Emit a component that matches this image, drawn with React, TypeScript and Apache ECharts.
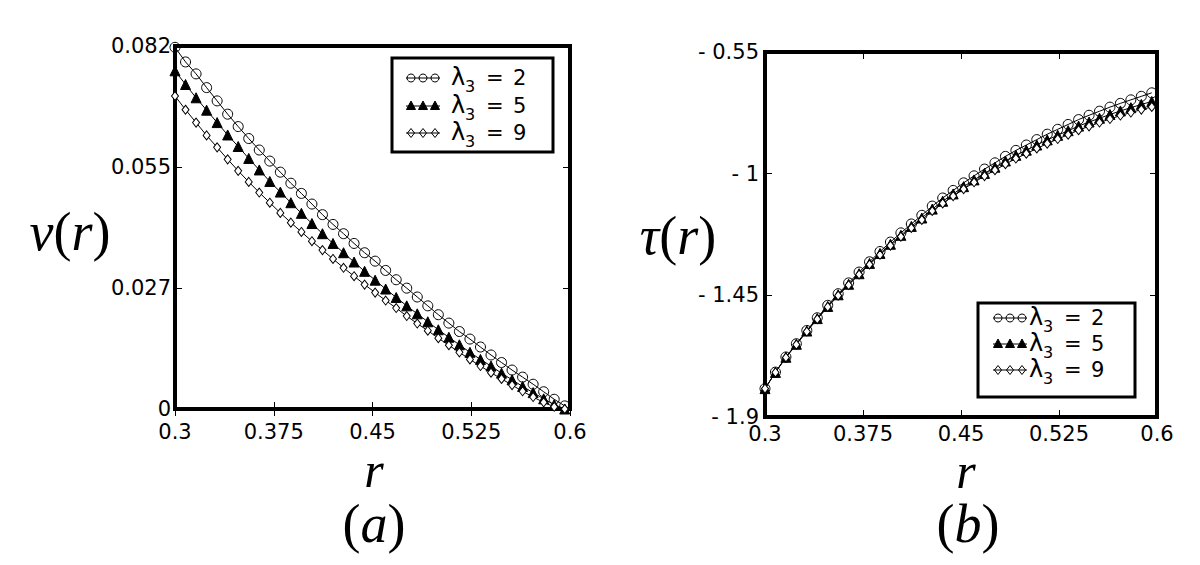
import React, { useEffect, useRef } from "react";
import * as echarts from "echarts";

// sampling radii (shared by all curves)
const rValues = [
  0.3, 0.308, 0.316, 0.324, 0.332, 0.34, 0.348, 0.356, 0.364, 0.372,
  0.38, 0.388, 0.396, 0.404, 0.412, 0.42, 0.428, 0.436, 0.444, 0.452,
  0.46, 0.468, 0.476, 0.484, 0.492, 0.5, 0.508, 0.516, 0.524, 0.532,
  0.54, 0.548, 0.556, 0.564, 0.572, 0.58, 0.588, 0.596,
];

// panel (a): v(r)
const vLam2 = [
  0.0817, 0.0784, 0.0757, 0.0726, 0.0696, 0.0666, 0.0638, 0.0611, 0.0585, 0.056,
  0.0535, 0.051, 0.0487, 0.0463, 0.0439, 0.0417, 0.0396, 0.0374, 0.0353, 0.0334,
  0.0313, 0.0292, 0.0273, 0.0253, 0.0233, 0.0213, 0.0194, 0.0175, 0.0158, 0.014,
  0.0122, 0.0105, 0.0088, 0.0072, 0.0056, 0.0039, 0.0022, 0.0007,
];
const vLam5 = [
  0.0764, 0.0733, 0.0703, 0.0675, 0.0647, 0.0619, 0.0593, 0.0566, 0.054, 0.0514,
  0.049, 0.0466, 0.0442, 0.0419, 0.0396, 0.0374, 0.0353, 0.0332, 0.0311, 0.0291,
  0.0271, 0.0252, 0.0233, 0.0215, 0.0197, 0.0179, 0.0162, 0.0145, 0.0128, 0.0112,
  0.0097, 0.0081, 0.0066, 0.0051, 0.0037, 0.0023, 0.001, 0.0,
];
const vLam9 = [
  0.0707, 0.0676, 0.0647, 0.0618, 0.0591, 0.0564, 0.0538, 0.0513, 0.0489, 0.0466,
  0.0443, 0.0421, 0.04, 0.0379, 0.0359, 0.0339, 0.0319, 0.03, 0.0281, 0.0263,
  0.0245, 0.0228, 0.021, 0.0193, 0.0177, 0.016, 0.0144, 0.0128, 0.0112, 0.0097,
  0.0082, 0.0068, 0.0054, 0.004, 0.0027, 0.0015, 0.0005, 0.0,
];

// panel (b): tau(r)
const tLam2 = [
  -1.795, -1.734, -1.678, -1.629, -1.58, -1.533, -1.487, -1.444, -1.404, -1.364,
  -1.326, -1.288, -1.253, -1.219, -1.186, -1.154, -1.12, -1.09, -1.062, -1.034,
  -1.008, -0.983, -0.96, -0.936, -0.914, -0.894, -0.874, -0.854, -0.836, -0.818,
  -0.8, -0.784, -0.769, -0.754, -0.74, -0.727, -0.714, -0.701,
];
const tLam5 = [
  -1.795, -1.735, -1.679, -1.631, -1.582, -1.536, -1.491, -1.448, -1.409, -1.37,
  -1.332, -1.295, -1.261, -1.228, -1.195, -1.164, -1.131, -1.102, -1.075, -1.048,
  -1.023, -0.999, -0.976, -0.953, -0.932, -0.913, -0.894, -0.875, -0.858, -0.841,
  -0.824, -0.809, -0.795, -0.781, -0.768, -0.756, -0.744, -0.733,
];
const tLam9 = [
  -1.795, -1.735, -1.68, -1.632, -1.584, -1.538, -1.493, -1.451, -1.412, -1.373,
  -1.336, -1.3, -1.266, -1.233, -1.201, -1.171, -1.138, -1.11, -1.083, -1.057,
  -1.032, -1.009, -0.987, -0.965, -0.944, -0.926, -0.907, -0.889, -0.872, -0.856,
  -0.839, -0.825, -0.811, -0.798, -0.785, -0.774, -0.763, -0.753,
];

const xTickValues = [0.3, 0.375, 0.45, 0.525, 0.6];
const xTickLabels = ["0.3", "0.375", "0.45", "0.525", "0.6"];
const vTickValues = [0, 0.027333, 0.054667, 0.082];
const vTickLabels = ["0", "0.027", "0.055", "0.082"];
const tTickValues = [-1.9, -1.45, -1, -0.55];
const tTickLabels = ["- 1.9", "- 1.45", "- 1", "- 0.55"];
const lambdaValues = ["2", "5", "9"];

const TICK_FONT = '"DejaVu Sans", sans-serif';
const SERIF = '"Liberation Serif", "DejaVu Serif", serif';

function labelFor(values: number[], labels: string[]) {
  return (v: number) => {
    let best = 0;
    for (let i = 1; i < values.length; i++) {
      if (Math.abs(values[i] - v) < Math.abs(values[best] - v)) best = i;
    }
    return labels[best];
  };
}

function xAxisPair(gridIndex: number, margin: number) {
  const base = {
    type: "value",
    gridIndex,
    min: 0.3,
    max: 0.6,
    splitLine: { show: false },
    axisLine: { show: false },
  };
  return [
    {
      ...base,
      position: "bottom",
      axisTick: {
        show: true,
        inside: true,
        length: 7,
        customValues: xTickValues,
        lineStyle: { color: "#000", width: 1 },
      },
      axisLabel: {
        show: true,
        customValues: xTickValues,
        margin,
        color: "#000",
        fontSize: 21,
        lineHeight: 18,
        fontFamily: TICK_FONT,
        formatter: labelFor(xTickValues, xTickLabels),
      },
    },
    {
      ...base,
      position: "top",
      axisTick: {
        show: true,
        inside: true,
        length: 7,
        customValues: xTickValues,
        lineStyle: { color: "#000", width: 1 },
      },
      axisLabel: { show: false },
    },
  ];
}

function yAxisPair(
  gridIndex: number,
  min: number,
  max: number,
  values: number[],
  labels: string[],
  margin: number
) {
  const base = {
    type: "value",
    gridIndex,
    min,
    max,
    splitLine: { show: false },
    axisLine: { show: false },
  };
  return [
    {
      ...base,
      position: "left",
      axisTick: {
        show: true,
        inside: true,
        length: 7,
        customValues: values,
        lineStyle: { color: "#000", width: 1 },
      },
      axisLabel: {
        show: true,
        customValues: values,
        margin,
        color: "#000",
        fontSize: 21,
        lineHeight: 18,
        fontFamily: TICK_FONT,
        formatter: labelFor(values, labels),
      },
    },
    {
      ...base,
      position: "right",
      axisTick: {
        show: true,
        inside: true,
        length: 7,
        customValues: values,
        lineStyle: { color: "#000", width: 1 },
      },
      axisLabel: { show: false },
    },
  ];
}

const markerStyles = [
  { symbol: "circle", size: 10, fill: "rgba(0,0,0,0)" },
  { symbol: "triangle", size: 10, fill: "#000" },
  { symbol: "diamond", size: [7, 9], fill: "#fff" },
];

function makeSeries(values: number[], idx: number, axisIndex: number) {
  const m = markerStyles[idx];
  return {
    type: "line",
    name: "lambda3=" + lambdaValues[idx],
    data: rValues.map((r, i) => [r, values[i]]),
    xAxisIndex: axisIndex,
    yAxisIndex: axisIndex,
    symbol: m.symbol,
    symbolSize: m.size,
    showSymbol: true,
    showAllSymbol: true,
    clip: false,
    lineStyle: { color: "#000", width: 1 },
    itemStyle: { color: m.fill, borderColor: "#000", borderWidth: 1 },
    z: 3 + idx,
  };
}

function legendGraphic(
  bx: number,
  by: number,
  bw: number,
  bh: number,
  rows: number[],
  sx: number,
  tx: number
) {
  const els: any[] = [
    {
      type: "rect",
      shape: { x: bx, y: by, width: bw, height: bh },
      style: { fill: "#fff", stroke: "#000", lineWidth: 3 },
      z: 50,
    },
  ];
  rows.forEach((ry, k) => {
    els.push({
      type: "line",
      shape: { x1: sx, y1: ry, x2: sx + 34, y2: ry },
      style: { stroke: "#000", lineWidth: 1 },
      z: 51,
    });
    [sx + 5, sx + 17, sx + 29].forEach((cx) => {
      if (k === 0) {
        els.push({
          type: "circle",
          shape: { cx, cy: ry, r: 4 },
          style: { fill: "rgba(0,0,0,0)", stroke: "#000", lineWidth: 1 },
          z: 52,
        });
      } else if (k === 1) {
        els.push({
          type: "polygon",
          shape: { points: [[cx, ry - 5], [cx - 4.5, ry + 3.5], [cx + 4.5, ry + 3.5]] },
          style: { fill: "#000", stroke: "#000", lineWidth: 1 },
          z: 52,
        });
      } else {
        els.push({
          type: "polygon",
          shape: { points: [[cx, ry - 4.5], [cx + 3.5, ry], [cx, ry + 4.5], [cx - 3.5, ry]] },
          style: { fill: "#fff", stroke: "#000", lineWidth: 1 },
          z: 52,
        });
        els.push({
          type: "line",
          shape: { x1: cx - 3.5, y1: ry, x2: cx + 3.5, y2: ry },
          style: { stroke: "#000", lineWidth: 1 },
          z: 53,
        });
      }
    });
    els.push({
      type: "text",
      x: tx,
      y: ry - 1,
      style: { text: "λ", font: '24px ' + TICK_FONT, fill: "#000", align: "left", verticalAlign: "middle", lineHeight: 20 },
      z: 52,
    });
    els.push({
      type: "text",
      x: tx + 14,
      y: ry + 8,
      style: { text: "3", font: '16px ' + TICK_FONT, fill: "#000", align: "left", verticalAlign: "middle", lineHeight: 12 },
      z: 52,
    });
    els.push({
      type: "text",
      x: tx + 35,
      y: ry,
      style: { text: "=", font: '21px ' + TICK_FONT, fill: "#000", align: "left", verticalAlign: "middle", lineHeight: 18 },
      z: 52,
    });
    els.push({
      type: "text",
      x: tx + 62,
      y: ry,
      style: { text: lambdaValues[k], font: '21px ' + TICK_FONT, fill: "#000", align: "left", verticalAlign: "middle", lineHeight: 18 },
      z: 52,
    });
  });
  return els;
}

function mathText(x: number, y: number, text: string, size: number, lh: number) {
  return {
    type: "text",
    x,
    y,
    style: {
      text,
      align: "center",
      verticalAlign: "middle",
      fill: "#000",
      rich: {
        i: { font: "italic " + size + "px " + SERIF, fill: "#000", lineHeight: lh },
        n: { font: size + "px " + SERIF, fill: "#000", lineHeight: lh },
      },
    },
    z: 60,
  };
}

export default function App() {
  const ref = useRef<HTMLDivElement>(null);
  useEffect(() => {
    if (!ref.current) return;
    const chart = echarts.init(ref.current, undefined, { renderer: "svg" });
    const option: any = {
      animation: false,
      backgroundColor: "#fff",
      grid: [
        { left: 175, top: 46, width: 395, height: 363, show: true, borderColor: "#000", borderWidth: 4, backgroundColor: "#fff" },
        { left: 765, top: 52, width: 392, height: 365, show: true, borderColor: "#000", borderWidth: 4, backgroundColor: "#fff" },
      ],
      xAxis: [...xAxisPair(0, 14), ...xAxisPair(1, 8)],
      yAxis: [
        ...yAxisPair(0, 0, 0.082, vTickValues, vTickLabels, 4),
        ...yAxisPair(1, -1.9, -0.55, tTickValues, tTickLabels, 6),
      ],
      series: [
        makeSeries(vLam2, 0, 0),
        makeSeries(vLam5, 1, 0),
        makeSeries(vLam9, 2, 0),
        makeSeries(tLam2, 0, 2),
        makeSeries(tLam5, 1, 2),
        makeSeries(tLam9, 2, 2),
      ],
      graphic: [
        ...legendGraphic(392, 58, 161, 94, [78, 106, 133], 406, 451),
        ...legendGraphic(978, 303, 157, 94, [318, 344, 370], 993, 1029),
        mathText(70, 232, "{i|v}{n|(}{i|r}{n|)}", 54, 48),
        mathText(678, 236, "{i|τ}{n|(}{i|r}{n|)}", 54, 48),
        mathText(374, 470, "{i|r}", 50, 24),
        mathText(374, 524, "{n|(}{i|a}{n|)}", 54, 48),
        mathText(966, 471, "{i|r}", 50, 24),
        mathText(968, 524, "{n|(}{i|b}{n|)}", 54, 48),
      ],
    };
    chart.setOption(option);
    return () => chart.dispose();
  }, []);
  return (
    <div
      ref={ref}
      style={{ position: "fixed", left: 0, top: 0, width: 1200, height: 565, background: "#fff" }}
    />
  );
}
